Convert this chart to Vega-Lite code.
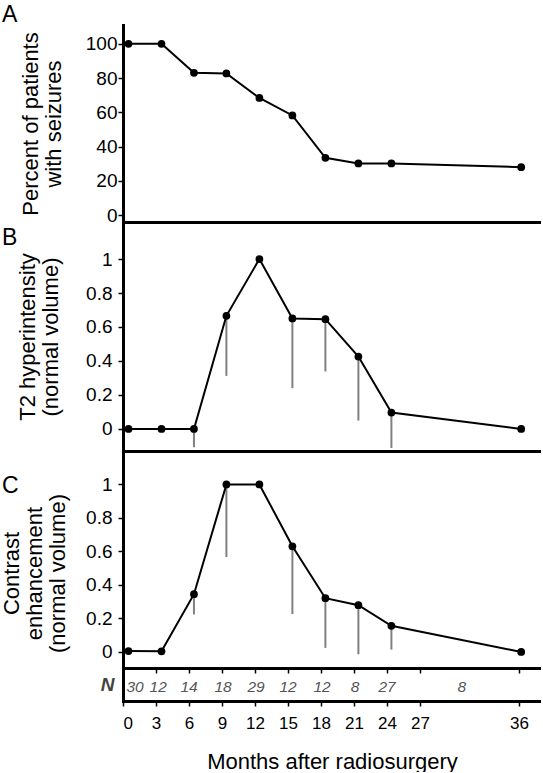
{
  "$schema": "https://vega.github.io/schema/vega-lite/v6.json",
  "padding": {"left": -1, "top": 3, "right": 0, "bottom": 0},
  "background": "white",
  "spacing": 0,
  "bounds": "flush",
  "config": {
    "font": "Liberation Sans",
    "view": {"stroke": null},
    "axis": {
      "grid": false,
      "domainColor": "black",
      "domainWidth": 3,
      "domainCap": "square",
      "tickColor": "black",
      "tickWidth": 1.5,
      "tickSize": 5,
      "labelColor": "black",
      "labelFontSize": 19,
      "labelFont": "Liberation Sans",
      "titleFont": "Liberation Sans",
      "titleFontSize": 22,
      "titleFontWeight": "normal",
      "titleColor": "black",
      "titleLineHeight": 23
    },
    "title": {"font": "Liberation Sans", "fontWeight": "normal", "color": "black", "fontSize": 23}
  },
  "datasets": {
    "seizure": [
      {"month": 0.5, "pct": 100},
      {"month": 3.5, "pct": 100},
      {"month": 6.45, "pct": 83.1},
      {"month": 9.4, "pct": 82.7},
      {"month": 12.4, "pct": 68.4},
      {"month": 15.4, "pct": 58.2},
      {"month": 18.4, "pct": 33.5},
      {"month": 21.4, "pct": 30.2},
      {"month": 24.4, "pct": 30.2},
      {"month": 36.2, "pct": 28.0}
    ],
    "t2": [
      {"month": 0.5, "vol": 0},
      {"month": 3.5, "vol": 0},
      {"month": 6.45, "vol": 0},
      {"month": 9.4, "vol": 0.666},
      {"month": 12.4, "vol": 1.0},
      {"month": 15.4, "vol": 0.65},
      {"month": 18.4, "vol": 0.646},
      {"month": 21.4, "vol": 0.426},
      {"month": 24.4, "vol": 0.096},
      {"month": 36.2, "vol": 0}
    ],
    "t2err": [
      {"month": 6.45, "vol": 0, "low": -0.108},
      {"month": 9.4, "vol": 0.666, "low": 0.312},
      {"month": 15.4, "vol": 0.65, "low": 0.24},
      {"month": 18.4, "vol": 0.646, "low": 0.338},
      {"month": 21.4, "vol": 0.426, "low": 0.049},
      {"month": 24.4, "vol": 0.096, "low": -0.112}
    ],
    "contrast": [
      {"month": 0.5, "vol": 0.005},
      {"month": 3.5, "vol": 0.004},
      {"month": 6.45, "vol": 0.345},
      {"month": 9.4, "vol": 1.0},
      {"month": 12.4, "vol": 1.0},
      {"month": 15.4, "vol": 0.631},
      {"month": 18.4, "vol": 0.321},
      {"month": 21.4, "vol": 0.279},
      {"month": 24.4, "vol": 0.156},
      {"month": 36.2, "vol": 0}
    ],
    "contrasterr": [
      {"month": 6.45, "vol": 0.345, "low": 0.224},
      {"month": 9.4, "vol": 1.0, "low": 0.567},
      {"month": 15.4, "vol": 0.631, "low": 0.226},
      {"month": 18.4, "vol": 0.321, "low": 0.024},
      {"month": 21.4, "vol": 0.279, "low": -0.014},
      {"month": 24.4, "vol": 0.156, "low": 0.014}
    ],
    "nstrip": [
      {"month": 1.1, "n": "30", "row": "N"},
      {"month": 3.2, "n": "12", "row": "N"},
      {"month": 6.0, "n": "14", "row": "N"},
      {"month": 9.1, "n": "18", "row": "N"},
      {"month": 12.1, "n": "29", "row": "N"},
      {"month": 15.0, "n": "12", "row": "N"},
      {"month": 18.1, "n": "12", "row": "N"},
      {"month": 21.1, "n": "8", "row": "N"},
      {"month": 24.0, "n": "27", "row": "N"},
      {"month": 30.8, "n": "8", "row": "N"}
    ]
  },
  "vconcat": [
    {
      "width": 418,
      "height": 197,
      "title": {"text": "A", "anchor": "start", "frame": "group", "orient": "top", "offset": 0, "dx": -121, "dy": 19.5, "baseline": "alphabetic"},
      "data": {"name": "seizure"},
      "encoding": {
        "x": {"field": "month", "type": "quantitative", "scale": {"domain": [0, 38], "nice": false, "zero": false},
              "axis": {"ticks": false, "labels": false, "title": null}},
        "y": {"field": "pct", "type": "quantitative", "scale": {"domain": [-4, 111], "nice": false, "zero": false},
              "axis": {"values": [0, 20, 40, 60, 80, 100], "labelPadding": 1, "title": ["Percent of patients", "with seizures"], "titleX": -81, "titleBaseline": "bottom"}}
      },
      "layer": [
        {"mark": {"type": "line", "color": "black", "strokeWidth": 2}},
        {"mark": {"type": "circle", "color": "black", "size": 60, "opacity": 1}}
      ]
    },
    {
      "width": 418,
      "height": 229,
      "title": {"text": "B", "anchor": "start", "frame": "group", "orient": "top", "offset": 0, "dx": -121, "dy": 45.5, "baseline": "alphabetic"},
      "encoding": {
        "x": {"field": "month", "type": "quantitative", "scale": {"domain": [0, 38], "nice": false, "zero": false},
              "axis": {"ticks": false, "labels": false, "title": null}},
        "y": {"field": "vol", "type": "quantitative", "scale": {"domain": [-0.13, 1.218], "nice": false, "zero": false},
              "axis": {"values": [0, 0.2, 0.4, 0.6, 0.8, 1], "format": "~g", "labelPadding": 6, "title": ["T2 hyperintensity", "(normal volume)"], "titleX": -84, "titleBaseline": "bottom"}}
      },
      "layer": [
        {"data": {"name": "t2err"}, "mark": {"type": "rule", "color": "#808080", "strokeWidth": 2},
         "encoding": {"y2": {"field": "low"}}},
        {"data": {"name": "t2"}, "mark": {"type": "line", "color": "black", "strokeWidth": 2}},
        {"data": {"name": "t2"}, "mark": {"type": "circle", "color": "black", "size": 60, "opacity": 1}}
      ]
    },
    {
      "width": 418,
      "height": 217,
      "title": {"text": "C", "anchor": "start", "frame": "group", "orient": "top", "offset": 0, "dx": -121, "dy": 64.5, "baseline": "alphabetic"},
      "encoding": {
        "x": {"field": "month", "type": "quantitative", "scale": {"domain": [0, 38], "nice": false, "zero": false},
              "axis": {"values": [0, 3, 6, 9, 12, 15, 18, 21, 24, 27, 36], "labels": false, "title": null}},
        "y": {"field": "vol", "type": "quantitative", "scale": {"domain": [-0.096, 1.2], "nice": false, "zero": false},
              "axis": {"values": [0, 0.2, 0.4, 0.6, 0.8, 1], "format": "~g", "labelPadding": 6, "title": ["Contrast", "enhancement", "(normal volume)"], "titleX": -100, "titleY": 122, "titleBaseline": "bottom"}}
      },
      "layer": [
        {"data": {"name": "contrasterr"}, "mark": {"type": "rule", "color": "#808080", "strokeWidth": 2},
         "encoding": {"y2": {"field": "low"}}},
        {"data": {"name": "contrast"}, "mark": {"type": "line", "color": "black", "strokeWidth": 2}},
        {"data": {"name": "contrast"}, "mark": {"type": "circle", "color": "black", "size": 60, "opacity": 1}}
      ]
    },
    {
      "width": 418,
      "height": 33,
      "data": {"name": "nstrip"},
      "mark": {"type": "text", "fontSize": 15.5, "fontStyle": "italic", "color": "#555555", "dy": 2.5},
      "encoding": {
        "x": {"field": "month", "type": "quantitative", "scale": {"domain": [0, 38], "nice": false, "zero": false},
              "axis": {"values": [0, 3, 6, 9, 12, 15, 18, 21, 24, 27, 36], "labelFontSize": 17, "labelPadding": 9,
                       "title": "Months after radiosurgery", "titleY": 67, "titleBaseline": "alphabetic"}},
        "y": {"field": "row", "type": "nominal", "scale": {"paddingInner": 0, "paddingOuter": 0},
              "axis": {"title": null, "ticks": false, "labelAngle": 0, "labelFontStyle": "italic", "labelFontWeight": "bold", "labelFontSize": 19, "labelColor": "#444444", "labelPadding": 9}},
        "text": {"field": "n"}
      }
    }
  ]
}
